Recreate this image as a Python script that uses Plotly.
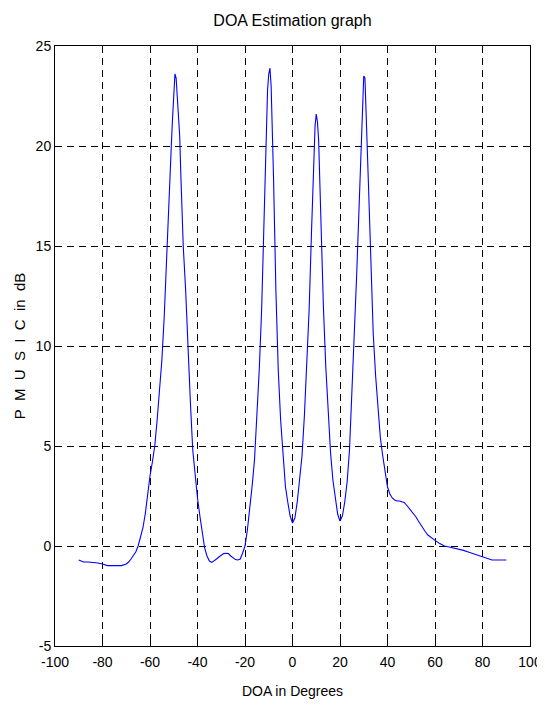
import plotly.graph_objects as go

doa_deg = [-90, -88, -86, -84, -82, -80, -78, -76, -74, -72, -70, -69, -68, -67, -66, -65, -64, -63,
           -62, -61, -60, -59, -58, -57, -56, -55, -54, -53, -52, -51, -50.5, -50, -49.5, -49, -48.5,
           -48, -47.5, -47, -46, -45, -44, -43, -42, -41, -40, -39, -38, -37, -36, -35, -34, -33, -32,
           -31, -30, -29, -28, -27, -26, -25, -24, -23, -22, -21, -20, -19, -18, -17, -16, -15, -14,
           -13, -12, -11, -10.5, -10, -9.5, -9, -8.5, -8, -7, -6, -5, -4, -3, -2, -1, 0, 1, 2, 3, 4,
           5, 6, 7, 8, 9, 9.5, 10, 10.5, 11, 12, 13, 14, 15, 16, 17, 18, 19, 20, 21, 22, 23, 24, 25,
           26, 27, 28, 29, 29.5, 30, 30.5, 31, 32, 33, 34, 35, 36, 37, 38, 39, 40, 41, 42, 43, 44, 45,
           46, 47, 48, 49, 50, 51, 52, 53, 54, 55, 56, 57, 58, 59, 60, 62, 64, 66, 68, 70, 72, 74, 76,
           78, 80, 82, 84, 86, 88, 90]

pmusic_db = [-0.7, -0.8, -0.8, -0.82, -0.85, -0.9, -0.98, -0.98, -0.98, -0.98, -0.9, -0.8, -0.65,
             -0.5, -0.3, 0.0, 0.4, 0.9, 1.6, 2.6, 3.5, 4.2, 5.0, 6.3, 7.6, 9.3, 11.5, 14.7, 17.3,
             20.1, 21.4, 23.0, 23.6, 23.4, 22.4, 21.3, 20.5, 18.5, 15.0, 12.8, 9.8, 7.2, 4.8, 3.4,
             2.4, 1.5, 0.6, -0.1, -0.5, -0.75, -0.82, -0.75, -0.65, -0.55, -0.45, -0.38, -0.36,
             -0.38, -0.5, -0.6, -0.68, -0.7, -0.65, -0.35, 0.0, 0.8, 1.8, 3.0, 4.3, 6.5, 8.8, 11.8,
             16.6, 21.2, 22.8, 23.6, 23.9, 23.0, 21.2, 18.5, 12.8, 8.8, 6.3, 4.4, 3.0, 2.2, 1.5,
             1.15, 1.4, 2.2, 3.2, 4.5, 6.5, 8.8, 11.8, 15.7, 20.0, 21.0, 21.6, 21.2, 20.3, 16.0,
             12.0, 9.0, 6.5, 4.7, 3.3, 2.3, 1.6, 1.25, 1.5, 2.2, 3.2, 4.8, 7.4, 10.6, 13.5, 17.0,
             21.0, 22.6, 23.5, 23.4, 21.2, 18.0, 14.3, 10.6, 8.5, 6.8, 5.4, 4.5, 3.75, 2.95, 2.6,
             2.4, 2.3, 2.25, 2.25, 2.22, 2.18, 2.05, 1.9, 1.75, 1.65, 1.45, 1.25, 1.05, 0.9, 0.7,
             0.55, 0.45, 0.35, 0.28, 0.12, 0.0, -0.05, -0.1, -0.15, -0.22, -0.3, -0.38, -0.47,
             -0.57, -0.65, -0.7, -0.7, -0.7, -0.7]

x_ticks = [-100, -80, -60, -40, -20, 0, 20, 40, 60, 80, 100]
y_ticks = [-5, 0, 5, 10, 15, 20, 25]

FONT = "Liberation Sans Narrow, Liberation Sans, Arial, sans-serif"
NB = "\u00a0"
y_title = f"P{NB} M{NB} U{NB} S{NB} I{NB} C{NB} in{NB} dB"

fig = go.Figure()
fig.add_trace(go.Scatter(x=doa_deg, y=pmusic_db, mode="lines",
                         line=dict(color="#0000FF", width=1.1), showlegend=False))

axis_common = dict(showline=True, linecolor="black", linewidth=1, mirror="ticks",
                   ticks="inside", ticklen=5, tickcolor="black", automargin=False,
                   showgrid=True, gridcolor="black", gridwidth=1, griddash="7px,5px",
                   zeroline=False, tickfont=dict(family=FONT, size=14, color="black"))

fig.update_xaxes(range=[-100, 100], tickvals=x_ticks, ticktext=[str(v) for v in x_ticks],
                 ticklabelstandoff=3,
                 title=dict(text="DOA in Degrees", font=dict(family=FONT, size=14, color="black"),
                            standoff=17), **axis_common)
fig.update_yaxes(range=[-5, 25], tickvals=y_ticks, ticktext=[str(v) for v in y_ticks],
                 title=dict(text=y_title, font=dict(family=FONT, size=15, color="black"),
                            standoff=6), **axis_common)

# the page adds an 8px body margin, so the figure is sized to fit inside the window
fig.update_layout(
    width=537, height=700,
    margin=dict(l=47, r=15, t=38, b=62),
    paper_bgcolor="white", plot_bgcolor="white",
    title=dict(text="DOA Estimation graph", xref="paper", x=0.5, xanchor="center",
               y=0.982, yanchor="middle",
               font=dict(family=FONT, size=16, color="black")),
)

fig.write_html("out.html")
